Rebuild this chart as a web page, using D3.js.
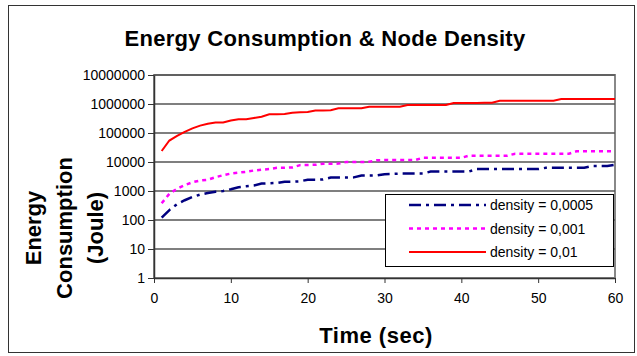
<!DOCTYPE html>
<html>
<head>
<meta charset="utf-8">
<script src="https://cdn.jsdelivr.net/npm/d3@7"></script>
<style>
  body { margin: 0; background: #fff; }
  svg text { font-family: "Liberation Sans", Arial, sans-serif; }
</style>
</head>
<body>
<svg id="chart" width="637" height="356"></svg>
<script>
// time in seconds
var times = d3.range(1, 61);

// density = 0,0005
var dens0005 = [120, 220, 350, 480, 620, 750, 850, 950, 1000, 1150,
    1350, 1450, 1550, 1800, 1850, 1900, 2100, 2100, 2150, 2450,
    2450, 2500, 2900, 2900, 2900, 2950, 3400, 3400, 3450, 3800,
    3900, 4000, 4000, 4000, 4000, 4700, 4700, 4700, 4700, 4700,
    4700, 5700, 5700, 5700, 5700, 5700, 5700, 5700, 5700, 5700,
    6300, 6300, 6300, 6300, 6300, 6300, 7300, 7300, 7300, 8000];

// density = 0,001
var dens001 = [380, 800, 1200, 1600, 2000, 2300, 2450, 3000, 3500, 4000,
    4300, 4600, 5100, 5400, 5700, 6300, 6300, 6500, 7800, 7900,
    8000, 8700, 8700, 8800, 10000, 10000, 10000, 10200, 11500, 11700,
    11700, 11700, 11700, 11700, 14000, 14000, 14000, 14000, 14000, 14000,
    16500, 16500, 16500, 16500, 16500, 16500, 19300, 19300, 19300, 19300,
    19300, 19300, 19300, 19300, 23300, 23300, 23300, 23300, 23300, 23300];

// density = 0,01
var dens01 = [24000, 55000, 80000, 110000, 145000, 180000, 210000, 228000, 230000, 270000,
    300000, 300000, 330000, 365000, 440000, 440000, 450000, 500000, 520000, 530000,
    600000, 600000, 610000, 710000, 710000, 710000, 720000, 810000, 810000, 810000,
    810000, 810000, 930000, 930000, 930000, 930000, 930000, 930000, 1080000, 1080000,
    1080000, 1090000, 1100000, 1100000, 1300000, 1300000, 1300000, 1300000, 1300000, 1300000,
    1300000, 1300000, 1480000, 1480000, 1480000, 1480000, 1480000, 1480000, 1480000, 1480000];

var seriesNames = ["density = 0,0005", "density = 0,001", "density = 0,01"];
var yTicks = [1, 10, 100, 1000, 10000, 100000, 1000000, 10000000];
var xTicks = [0, 10, 20, 30, 40, 50, 60];

var svg = d3.select("#chart");

var pLeft = 154, pRight = 615, pTop = 75, pBottom = 278;

var x = d3.scaleLinear().domain([0, 60]).range([pLeft, pRight]);
var y = d3.scaleLog().domain([1, 10000000]).range([pBottom, pTop]);

// outer frame
svg.append("rect")
    .attr("x", 8.5).attr("y", 5.5)
    .attr("width", 626).attr("height", 347)
    .attr("fill", "#fff")
    .attr("stroke", "#333")
    .attr("stroke-width", 1);

// plot border
svg.append("rect")
    .attr("x", pLeft).attr("y", pTop)
    .attr("width", pRight - pLeft).attr("height", pBottom - pTop)
    .attr("fill", "#fff")
    .attr("stroke", "#888")
    .attr("stroke-width", 2);

// gridlines
svg.append("g").selectAll("line")
    .data(yTicks.slice(1))
    .enter().append("line")
    .attr("x1", pLeft).attr("x2", pRight)
    .attr("y1", function(d) { return y(d); })
    .attr("y2", function(d) { return y(d); })
    .attr("stroke", "#555")
    .attr("stroke-width", 1.5);

// y axis
var yAxis = d3.axisLeft(y)
    .tickValues(yTicks)
    .tickFormat(d3.format("d"))
    .tickSize(6)
    .tickSizeOuter(0);
var gy = svg.append("g").attr("transform", "translate(" + pLeft + ",0)").call(yAxis);
gy.select(".domain").attr("stroke", "#333").attr("stroke-width", 1.5);
gy.selectAll(".tick line").attr("stroke", "#333");
gy.selectAll("text").style("font-size", "14px").attr("fill", "#000").attr("x", -9)
    .attr("font-family", null);

// x axis
var xAxis = d3.axisBottom(x)
    .tickValues(xTicks)
    .tickSize(5)
    .tickSizeOuter(0);
var gx = svg.append("g").attr("transform", "translate(0," + pBottom + ")").call(xAxis);
gx.select(".domain").attr("stroke", "#333").attr("stroke-width", 1.5);
gx.selectAll(".tick line").attr("stroke", "#333");
gx.selectAll("text").style("font-size", "14px").attr("fill", "#000").attr("y", 15);

// lines
var styles = [
    {color: "#000080", width: 2.5, dash: "12,5,3,5"},
    {color: "#ff00ff", width: 2.5, dash: "4,4"},
    {color: "#ff0000", width: 2, dash: null}
];
var allSeries = [dens0005, dens001, dens01];

var line = d3.line()
    .x(function(d, i) { return x(times[i]); })
    .y(function(d) { return y(d); });

allSeries.forEach(function(s, k) {
    svg.append("path")
        .datum(s)
        .attr("d", line)
        .attr("fill", "none")
        .attr("stroke", styles[k].color)
        .attr("stroke-width", styles[k].width)
        .attr("stroke-dasharray", styles[k].dash);
});

// legend
var lg = svg.append("g");
lg.append("rect")
    .attr("x", 385.5).attr("y", 194.5)
    .attr("width", 228).attr("height", 72)
    .attr("fill", "#fff")
    .attr("stroke", "#000")
    .attr("stroke-width", 1);
seriesNames.forEach(function(name, k) {
    var ly = 205 + k * 23.5;
    lg.append("line")
        .attr("x1", 409).attr("x2", 486)
        .attr("y1", ly).attr("y2", ly)
        .attr("stroke", styles[k].color)
        .attr("stroke-width", styles[k].width)
        .attr("stroke-dasharray", styles[k].dash);
    lg.append("text")
        .attr("x", 490).attr("y", ly + 5)
        .style("font-size", "14px")
        .text(name);
});

// titles
svg.append("text")
    .attr("x", 325).attr("y", 46)
    .attr("text-anchor", "middle")
    .style("font-size", "22px").style("font-weight", "bold")
    .style("letter-spacing", "0.3px")
    .text("Energy Consumption & Node Density");

svg.append("text")
    .attr("x", 376).attr("y", 343)
    .attr("text-anchor", "middle")
    .style("font-size", "22px").style("font-weight", "bold")
    .style("letter-spacing", "0.5px")
    .text("Time (sec)");

var yTitle = ["Energy", "Consumption", "(Joule)"];
svg.append("g").selectAll("text")
    .data(yTitle)
    .enter().append("text")
    .attr("transform", function(d, i) {
        return "translate(" + (41 + i * 31) + ",228) rotate(-90)";
    })
    .attr("text-anchor", "middle")
    .style("font-size", "22px").style("font-weight", "bold")
    .text(function(d) { return d; });
</script>
</body>
</html>
